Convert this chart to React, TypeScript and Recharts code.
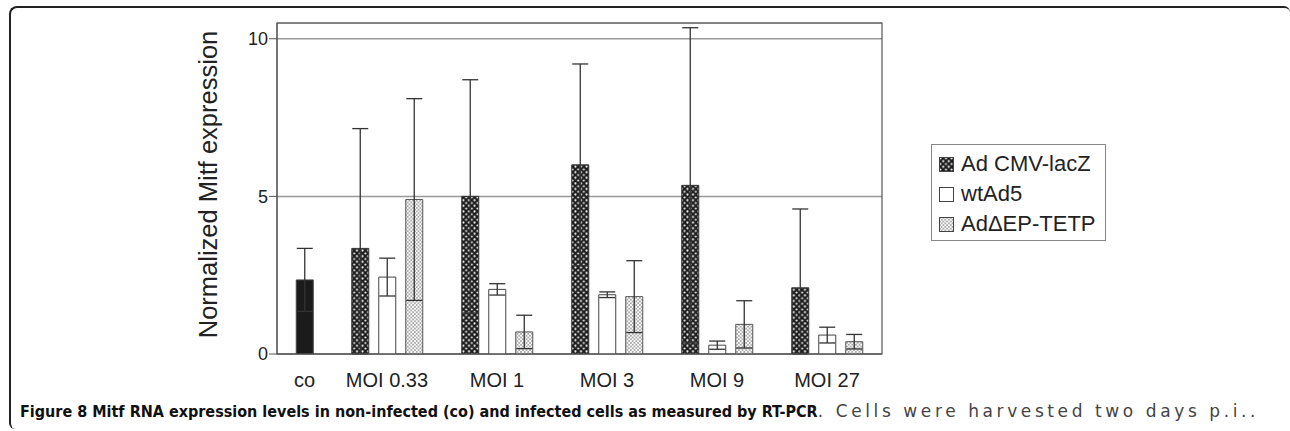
import React from 'react';
import { BarChart, Bar, XAxis, YAxis, CartesianGrid, ErrorBar, Cell, Legend, ReferenceArea } from 'recharts';

// x positions: "co" sits in a half-width slot before the MOI groups
const positions = [0.25, 1, 2, 3, 4, 5];
const categories = ['co', 'MOI 0.33', 'MOI 1', 'MOI 3', 'MOI 9', 'MOI 27'];

const control = [2.35, null, null, null, null, null];
const controlErr = [1.0, 0, 0, 0, 0, 0];
const cmvLacZ = [null, 3.35, 5.0, 6.0, 5.35, 2.1];
const cmvLacZErr = [0, 3.8, 3.7, 3.2, 5.0, 2.5];
const wtAd5 = [null, 2.44, 2.05, 1.88, 0.28, 0.6];
const wtAd5Err = [0, 0.6, 0.18, 0.09, 0.13, 0.25];
const deltaEP = [null, 4.9, 0.7, 1.82, 0.94, 0.39];
const deltaEPErr = [0, 3.2, 0.53, 1.14, 0.75, 0.23];

const yTicks = [0, 5, 10];

const legendItems = [
  { label: 'Ad CMV-lacZ', fill: 'url(#dotsDark)' },
  { label: 'wtAd5', fill: '#fff' },
  { label: 'Ad\u0394EP-TETP', fill: 'url(#dotsLight)' },
];

// control is drawn in the middle slot so it stays centred on its tick
const data = categories.map((name, i) => ({
  x: positions[i],
  name,
  lacZ: cmvLacZ[i],
  lacZErr: cmvLacZErr[i],
  mid: control[i] ?? wtAd5[i],
  midErr: control[i] != null ? controlErr[i] : wtAd5Err[i],
  tetp: deltaEP[i],
  tetpErr: deltaEPErr[i],
}));

// lower whisker stops at the axis (the part below 0 is not drawn in the figure)
const clampedErr = (valKey: string, errKey: string) => (d: any) =>
  d[valKey] == null ? [0, 0] : [Math.min(d[errKey], d[valKey]), d[errKey]];

const font = "'Liberation Sans', Arial, sans-serif";

const renderLegend = () => (
  <div
    style={{
      border: '1px solid #888',
      width: 175,
      height: 97,
      boxSizing: 'border-box',
      paddingTop: 4,
      fontFamily: font,
      fontSize: 22,
      color: '#222',
    }}
  >
    {legendItems.map((item) => (
      <div key={item.label} style={{ height: 30, display: 'flex', alignItems: 'center' }}>
        <svg width={15} height={15} style={{ marginLeft: 7, marginRight: 7 }}>
          <rect x={0.5} y={0.5} width={14} height={14} fill={item.fill} stroke="#444" />
        </svg>
        <span>{item.label}</span>
      </div>
    ))}
  </div>
);

const renderYTitle = (props: any) => {
  const vb = props.viewBox || {};
  const x = vb.x + 28;
  const y = vb.y + vb.height / 2 - 4;
  return (
    <text
      x={x}
      y={y}
      transform={`rotate(-90, ${x}, ${y})`}
      textAnchor="middle"
      dominantBaseline="central"
      fontFamily={font}
      fontSize={25.5}
      fill="#222"
    >
      Normalized Mitf expression
    </text>
  );
};

export default function App() {
  return (
    <div style={{ position: 'absolute', left: 0, top: 0, width: 1290, height: 431, background: '#fff' }}>
      <div
        style={{
          position: 'absolute',
          left: 9,
          top: 6,
          width: 1281,
          height: 423,
          boxSizing: 'border-box',
          borderTop: '2px solid #222',
          borderLeft: '2px solid #222',
          borderTopLeftRadius: 8,
          borderTopRightRadius: 6,
          borderBottomLeftRadius: 6,
        }}
      />
      <BarChart
        width={1290}
        height={431}
        data={data}
        barGap={10}
        margin={{ top: 23, right: 408, bottom: 37, left: 180 }}
        style={{ position: 'absolute', left: 0, top: 0 }}
      >
        <defs>
          <pattern id="dotsDark" width={5.6} height={5.6} patternUnits="userSpaceOnUse">
            <rect width={5.6} height={5.6} fill="#1e1e1e" />
            <circle cx={1.4} cy={1.4} r={1.05} fill="#fff" />
            <circle cx={4.2} cy={4.2} r={1.05} fill="#fff" />
          </pattern>
          <pattern id="dotsLight" width={3.6} height={3.6} patternUnits="userSpaceOnUse">
            <rect width={3.6} height={3.6} fill="#fff" />
            <circle cx={0.9} cy={0.9} r={0.8} fill="#808080" />
            <circle cx={2.7} cy={2.7} r={0.8} fill="#808080" />
          </pattern>
        </defs>
        <CartesianGrid vertical={false} stroke="#999" strokeWidth={1.5} />
        <ReferenceArea x1={0} x2={5.5} y1={0} y2={10.5} fill="none" stroke="#555" strokeWidth={1.2} />
        <XAxis
          type="number"
          dataKey="x"
          domain={[0, 5.5]}
          ticks={positions}
          tickFormatter={(v: number) => categories[positions.indexOf(v)] ?? ''}
          tickLine={false}
          axisLine={{ stroke: '#555' }}
          tickMargin={13}
          height={40}
          tick={{ fontFamily: font, fontSize: 20, fill: '#222' }}
          allowDecimals
        />
        <YAxis
          domain={[0, 10.5]}
          ticks={yTicks}
          allowDataOverflow
          width={97}
          axisLine={{ stroke: '#555' }}
          tickLine={{ stroke: '#555' }}
          tickSize={8}
          tickMargin={1}
          tick={{ fontFamily: font, fontSize: 18, fill: '#222' }}
          label={renderYTitle}
        />
        <Legend
          layout="horizontal"
          verticalAlign="middle"
          align="center"
          content={renderLegend}
          wrapperStyle={{ left: 931, top: 144, width: 175, height: 97 }}
        />
        <Bar dataKey="lacZ" barSize={17} fill="url(#dotsDark)" stroke="#333" isAnimationActive={false}>
          <ErrorBar dataKey={clampedErr('lacZ', 'lacZErr')} width={8} stroke="#333" strokeWidth={1.3} direction="y" />
        </Bar>
        <Bar dataKey="mid" barSize={17} fill="#fff" stroke="#444" isAnimationActive={false}>
          {data.map((d, i) => (
            <Cell key={i} fill={control[i] != null ? '#1b1b1b' : '#fff'} />
          ))}
          <ErrorBar dataKey={clampedErr('mid', 'midErr')} width={8} stroke="#333" strokeWidth={1.3} direction="y" />
        </Bar>
        <Bar dataKey="tetp" barSize={17} fill="url(#dotsLight)" stroke="#555" isAnimationActive={false}>
          <ErrorBar dataKey={clampedErr('tetp', 'tetpErr')} width={8} stroke="#333" strokeWidth={1.3} direction="y" />
        </Bar>
      </BarChart>
      <div
        style={{
          position: 'absolute',
          left: 20,
          top: 401,
          fontFamily: "'Liberation Sans Narrow', 'DejaVu Sans Condensed', sans-serif",
          fontSize: 16,
          color: '#111',
          whiteSpace: 'nowrap',
        }}
      >
        <b>Figure 8 Mitf RNA expression levels in non-infected (co) and infected cells as measured by RT-PCR</b>
        <span style={{ color: '#444', fontFamily: "'DejaVu Sans', sans-serif", fontSize: 17, letterSpacing: 3.6 }}>
          . Cells were harvested two days p.i..
        </span>
      </div>
    </div>
  );
}
